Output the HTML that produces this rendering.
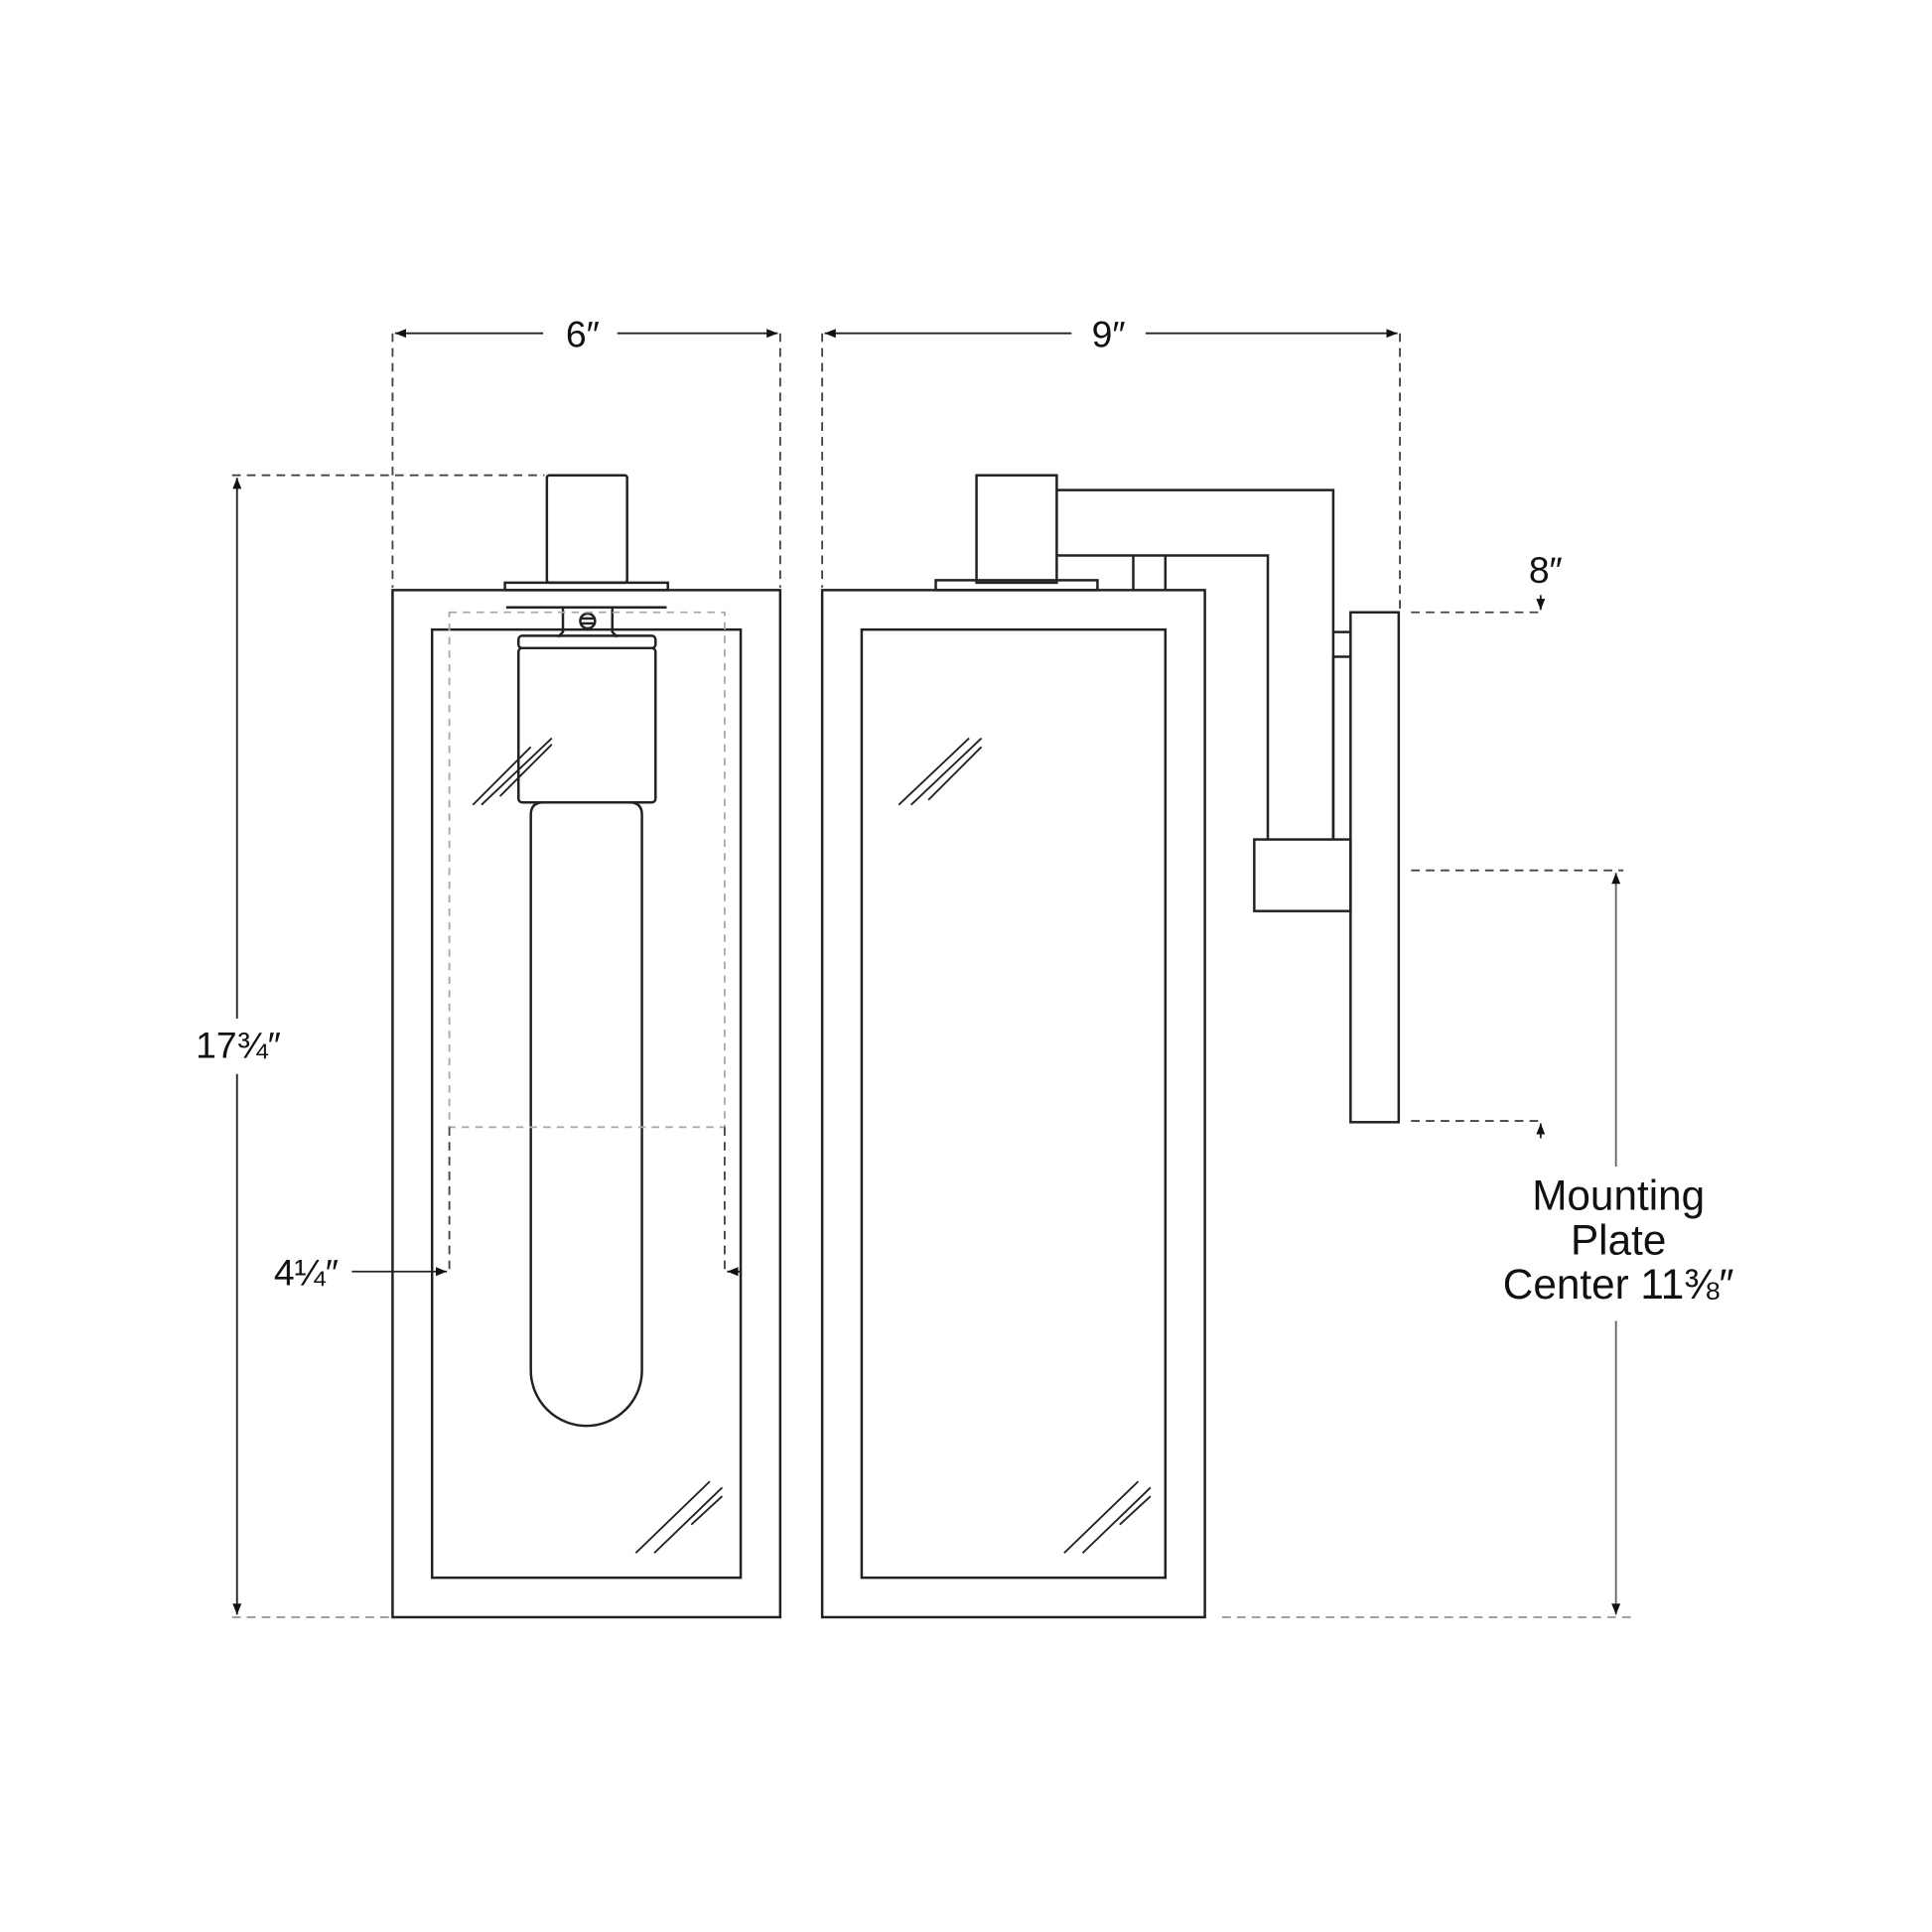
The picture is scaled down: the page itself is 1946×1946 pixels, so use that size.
<!DOCTYPE html>
<html><head><meta charset="utf-8"><style>
html,body{margin:0;padding:0;background:#fff;}
svg{display:block;}
text{font-family:"Liberation Sans","DejaVu Sans",sans-serif;fill:#111;}
</style></head><body>
<svg width="1946" height="1946" viewBox="0 0 1565 1565" xmlns="http://www.w3.org/2000/svg">
<defs>
<marker id="a" viewBox="0 0 10 10" refX="10" refY="5" markerWidth="9" markerHeight="9" orient="auto-start-reverse" markerUnits="userSpaceOnUse"><path d="M0,1 L10,5 L0,9 Z" fill="#111"/></marker>
</defs>
<g fill="none" stroke="#222" stroke-width="2">
<!-- LEFT LAMP -->
<rect x="318" y="478" width="314" height="832"/>
<rect x="350" y="510" width="250" height="768"/>
<rect x="443" y="385" width="65" height="87" rx="2"/>
<rect x="409" y="472" width="132" height="6"/>
<line x1="410" y1="492" x2="540" y2="492"/>
<path d="M456,493 L456,512 L452,516 M496,493 L496,512 L500,516"/>
<circle cx="476" cy="503" r="6"/>
<line x1="470" y1="501" x2="482" y2="501"/><line x1="470" y1="505" x2="482" y2="505"/>
<rect x="420" y="515" width="111" height="10" rx="3"/>
<rect x="420" y="525" width="111" height="125" rx="3"/>
<path d="M430,660 Q430,650 440,650 L510,650 Q520,650 520,660 L520,1110 A45,45 0 0 1 430,1110 Z"/>
<path d="M383,652 L430,605 M390,652 L447,598 M405,645 L447,603" stroke-width="1.5"/>
<path d="M515,1258 L575,1200 M530,1258 L585,1205 M560,1235 L585,1212" stroke-width="1.5"/>
<!-- RIGHT LAMP -->
<rect x="666" y="478" width="310" height="832"/>
<rect x="698" y="510" width="246" height="768"/>
<rect x="791" y="385" width="65" height="87"/>
<rect x="758" y="470" width="131" height="8"/>
<path d="M856,397 L1080,397 L1080,680"/>
<path d="M856,450 L1027,450 L1027,680"/>
<line x1="918" y1="450" x2="918" y2="478"/><line x1="944" y1="450" x2="944" y2="478"/>
<rect x="1016" y="680" width="78" height="58"/>
<rect x="1094" y="496" width="39" height="413"/>
<path d="M1080,512 L1094,512 M1080,532 L1094,532 M1080,532 L1080,680"/>
<path d="M728,652 L785,598 M738,652 L795,598 M752,648 L795,605" stroke-width="1.5"/>
<path d="M862,1258 L922,1200 M877,1258 L932,1205 M907,1235 L932,1212" stroke-width="1.5"/>
</g>
<!-- gray dashed bulb envelope -->
<g fill="none" stroke="#aaa" stroke-width="1.5" stroke-dasharray="6,5">
<rect x="364" y="496" width="223" height="417"/>
</g>
<!-- dimension dashes -->
<g fill="none" stroke="#444" stroke-width="1.5" stroke-dasharray="7,5">
<line x1="318" y1="270" x2="318" y2="476"/>
<line x1="632" y1="270" x2="632" y2="476"/>
<line x1="666" y1="270" x2="666" y2="476"/>
<line x1="1134" y1="270" x2="1134" y2="494"/>
<line x1="188" y1="385" x2="441" y2="385"/>
<line x1="364" y1="913" x2="364" y2="1030"/>
<line x1="587" y1="913" x2="587" y2="1030"/>
<line x1="1143" y1="496" x2="1250" y2="496"/>
<line x1="1143" y1="908" x2="1250" y2="908"/>
<line x1="1143" y1="705" x2="1315" y2="705"/>
</g>
<g fill="none" stroke="#999" stroke-width="1.5" stroke-dasharray="7,5">
<line x1="188" y1="1310" x2="316" y2="1310"/>
<line x1="990" y1="1310" x2="1322" y2="1310"/>
</g>
<g fill="none" stroke="#222" stroke-width="1.5">
<line x1="320" y1="270" x2="440" y2="270" marker-start="url(#a)"/>
<line x1="500" y1="270" x2="630" y2="270" marker-end="url(#a)"/>
<line x1="668" y1="270" x2="868" y2="270" marker-start="url(#a)"/>
<line x1="928" y1="270" x2="1132" y2="270" marker-end="url(#a)"/>
<line x1="192" y1="387" x2="192" y2="825" marker-start="url(#a)"/>
<line x1="192" y1="870" x2="192" y2="1308" marker-end="url(#a)"/>
<line x1="285" y1="1030" x2="362" y2="1030" marker-end="url(#a)"/>
<line x1="600" y1="1030" x2="589" y2="1030" marker-end="url(#a)"/>
<line x1="1248" y1="482" x2="1248" y2="494" marker-end="url(#a)"/>
<line x1="1248" y1="922" x2="1248" y2="910" marker-end="url(#a)"/>
<line x1="1309" y1="707" x2="1309" y2="945" stroke="#666" marker-start="url(#a)"/>
<line x1="1309" y1="1070" x2="1309" y2="1308" stroke="#666" marker-end="url(#a)"/>
</g>
<g font-size="30" text-anchor="middle">
<text x="472" y="281">6″</text>
<text x="898" y="281">9″</text>
<text x="193" y="857">17¾″</text>
<text x="248" y="1041">4¼″</text>
<text x="1252" y="472">8″</text>
</g>
<g font-size="34" text-anchor="middle">
<text x="1311" y="980">Mounting</text>
<text x="1311" y="1016">Plate</text>
<text x="1311" y="1052">Center 11⅜″</text>
</g>
</svg>
</body></html>
